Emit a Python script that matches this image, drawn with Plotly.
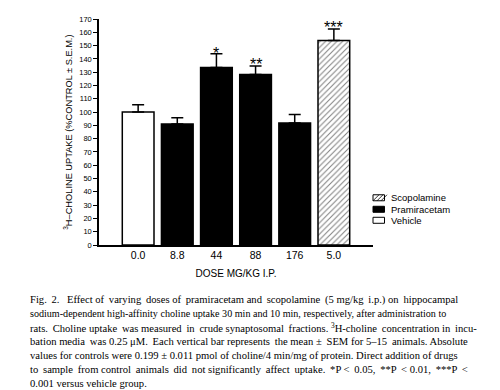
import plotly.graph_objects as go

categories = ["0.0", "8.8", "44", "88", "176", "5.0"]
vehicle_x = ["0.0"]
vehicle_y = [100]
vehicle_err = [5.5]
prami_x = ["8.8", "44", "88", "176"]
prami_y = [91, 133.6, 128.3, 91.7]
prami_err = [4.7, 10.3, 6.3, 6.5]
scop_x = ["5.0"]
scop_y = [153.9]
scop_err = [8.5]
sig_x = ["44", "88", "5.0"]
sig_y = [144.3, 135.8, 163.6]
sig_text = ["*", "**", "***"]
yticks = list(range(0, 171, 10))
legend_names = ["Scopolamine", "Pramiracetam", "Vehicle"]

caption = [
    "Fig. 2.  Effect of varying doses of pramiracetam and scopolamine (5 mg/kg i.p.) on hippocampal",
    "sodium-dependent high-affinity choline uptake 30 min and 10 min, respectively, after administration to",
    "rats. Choline uptake was measured in crude synaptosomal fractions. <sup>3</sup>H-choline concentration in incu-",
    "bation media was 0.25 μM. Each vertical bar represents the mean ± SEM for 5–15 animals. Absolute",
    "values for controls were 0.199 ± 0.011 pmol of choline/4 min/mg of protein. Direct addition of drugs",
    "to sample from control animals did not significantly affect uptake. *P < 0.05, **P < 0.01, ***P <",
    "0.001 versus vehicle group.",
]
# per-line typesetting: font size and number of extra thin spaces for justification
cap_size = [10.6, 10.1, 10.6, 10.6, 10.6, 10.6, 10.6]
cap_extra = [9, 0, 7, 5, 0, 13, 0]

# figure is drawn at an 8px page offset; plot area in figure px
W, H = 492, 382
L, R, T, B = 91, 127, 11.3, 144.8
PW, PH = W - L - R, H - T - B

def px(xf):
    return (xf - L) / PW

def py(yf):
    return (H - B - yf) / PH

def justify(txt, k):
    parts = txt.split(" ")
    n = len(parts) - 1
    if k <= 0 or n <= 0:
        return txt
    out = parts[0]
    given = 0
    for j in range(1, len(parts)):
        target = round(j * k / n)
        add = target - given
        given = target
        out += " " + "\u2009" * add + parts[j]
    return out

line = dict(color="black", width=1.5)

def err(vals):
    return dict(type="data", array=vals, arrayminus=[0] * len(vals), symmetric=False,
                color="black", thickness=1.5, width=6)

fig = go.Figure()
fig.add_trace(go.Bar(x=vehicle_x, y=vehicle_y, name="Vehicle", error_y=err(vehicle_err),
                     marker=dict(color="white", line=line)))
fig.add_trace(go.Bar(x=prami_x, y=prami_y, name="Pramiracetam", error_y=err(prami_err),
                     marker=dict(color="black", line=line)))
fig.add_trace(go.Bar(x=scop_x, y=scop_y, name="Scopolamine", error_y=err(scop_err),
                     marker=dict(color="white", line=line,
                                 pattern=dict(shape="/", fgcolor="black", bgcolor="white",
                                              size=4, solidity=0.25))))

for xv, yv, t in zip(sig_x, sig_y, sig_text):
    fig.add_annotation(x=categories.index(xv), y=yv, text=t, showarrow=False, yanchor="middle",
                       xanchor="center",
                       font=dict(family="Liberation Sans", size=16, color="black"))

fig.add_annotation(xref="paper", yref="paper", x=px(60), xanchor="center", y=py(125),
                   yanchor="middle", textangle=-90,
                   text="<sup>3</sup>H–CHOLINE UPTAKE (%CONTROL ± S.E.M.)", showarrow=False,
                   font=dict(family="Liberation Sans", size=9.25, color="black"))

# compact legend drawn by hand
leg_rows = [190, 201.5, 212.5]
for name, yr in zip(legend_names, leg_rows):
    fill = "black" if name == "Pramiracetam" else "white"
    fig.add_shape(type="rect", xref="paper", yref="paper",
                  x0=px(365), x1=px(376.5), y0=py(yr + 3), y1=py(yr - 3),
                  line=dict(color="black", width=1), fillcolor=fill)
    if name == "Scopolamine":
        for k in range(3):
            fig.add_shape(type="line", xref="paper", yref="paper",
                          x0=px(365 + 4 * k), y0=py(yr + 3), x1=px(365 + 4 * k + 6), y1=py(yr - 3),
                          line=dict(color="black", width=0.8))
    fig.add_annotation(xref="paper", yref="paper", x=px(381), xanchor="left", y=py(yr),
                       yanchor="middle", text=name, showarrow=False,
                       font=dict(family="Liberation Sans", size=9.5, color="black"))

for i, txt in enumerate(caption):
    fig.add_annotation(xref="paper", yref="paper", x=px(20), xanchor="left",
                       y=py(292 + i * 14.0), yanchor="middle",
                       text=justify(txt, cap_extra[i]), showarrow=False, align="left",
                       font=dict(family="Liberation Serif", size=cap_size[i], color="black"))

fig.update_layout(
    width=W, height=H,
    margin=dict(l=L, r=R, t=T, b=B, autoexpand=False),
    paper_bgcolor="white", plot_bgcolor="white",
    barmode="overlay", bargap=0.19,
    showlegend=False,
    font=dict(family="Liberation Sans", color="black"),
)
fig.update_xaxes(type="category", categoryorder="array", categoryarray=categories,
                 range=[-1, 6], showline=True, linecolor="black", linewidth=1.5,
                 ticks="", showgrid=False, zeroline=False,
                 tickfont=dict(family="Liberation Sans", size=10.5, color="black"),
                 title=dict(text="DOSE MG/KG I.P.", standoff=10,
                            font=dict(family="Liberation Sans", size=10, color="black")))
fig.update_yaxes(range=[0, 170], tickvals=yticks, showline=True, linecolor="black", linewidth=1.5,
                 ticks="outside", ticklen=4, tickwidth=1.2, tickcolor="black",
                 showgrid=False, zeroline=False,
                 tickfont=dict(family="Liberation Sans", size=7.5, color="black"))

fig.write_html("out.html")
